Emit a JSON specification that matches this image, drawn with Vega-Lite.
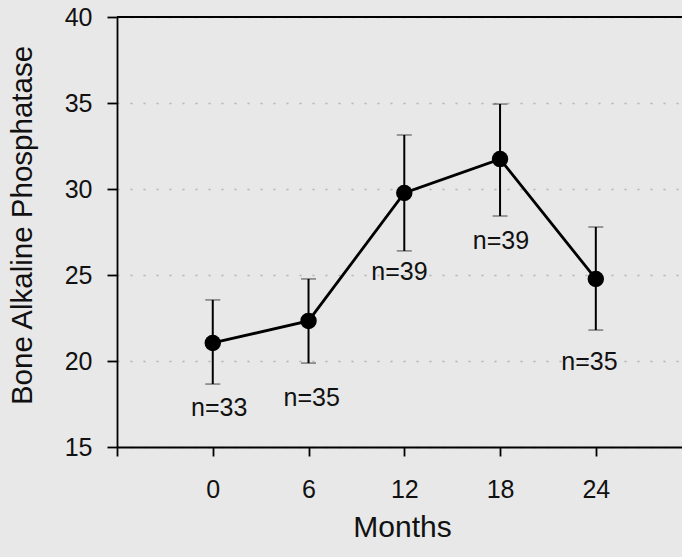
{
  "$schema": "https://vega.github.io/schema/vega-lite/v6.json",
  "width": 565,
  "height": 430,
  "autosize": {"type": "none"},
  "padding": {"left": 117, "top": 17, "right": 0, "bottom": 110},
  "background": "#e8e8e8",
  "config": {
    "view": {"stroke": null},
    "font": "Liberation Sans"
  },
  "datasets": {
    "points": [
      {"month": 0, "mean": 21.05, "lo": 18.66, "hi": 23.55},
      {"month": 6, "mean": 22.33, "lo": 19.88, "hi": 24.77},
      {"month": 12, "mean": 29.77, "lo": 26.4, "hi": 33.14},
      {"month": 18, "mean": 31.74, "lo": 28.43, "hi": 34.94},
      {"month": 24, "mean": 24.77, "lo": 21.8, "hi": 27.79}
    ],
    "labels": [
      {"month": 0.4, "value": 17.27, "text": "n=33"},
      {"month": 6.2, "value": 17.85, "text": "n=35"},
      {"month": 11.7, "value": 25.17, "text": "n=39"},
      {"month": 18.06, "value": 26.98, "text": "n=39"},
      {"month": 23.6, "value": 19.94, "text": "n=35"}
    ]
  },
  "layer": [
    {
      "data": {"name": "points"},
      "mark": {"type": "rule", "color": "black", "strokeWidth": 1.8},
      "encoding": {
        "y": {"datum": 40, "type": "quantitative",
          "scale": {"domain": [15, 40], "nice": false, "zero": false},
          "axis": {
            "values": [15, 20, 25, 30, 35, 40],
            "grid": true,
            "gridDash": [2, 11],
            "gridColor": "#888",
            "gridOpacity": 0.55,
            "gridWidth": 1.5,
            "domainColor": "black",
            "domainWidth": 1.8,
            "tickColor": "black",
            "tickWidth": 1.8,
            "tickSize": 10,
            "labelFontSize": 25,
            "labelColor": "#111",
            "labelPadding": 15,
            "title": "Bone Alkaline Phosphatase",
            "titleFontSize": 29.5,
            "titleFontWeight": "normal",
            "titleColor": "#111",
            "titleAngle": -90,
            "titleX": -95,
            "titleY": 208,
            "titleBaseline": "middle",
            "titleAlign": "center"
          }
        }
      }
    },
    {
      "data": {"name": "points"},
      "mark": {"type": "errorbar", "ticks": {"size": 15, "color": "black", "strokeWidth": 2}, "rule": {"color": "black", "strokeWidth": 2}},
      "encoding": {
        "x": {"field": "month", "type": "quantitative",
          "scale": {"domain": [-6, 29.4], "nice": false, "zero": false},
          "axis": {
            "values": [-6, 0, 6, 12, 18, 24],
            "labelExpr": "datum.value < 0 ? '' : datum.label",
            "grid": false,
            "domainColor": "black",
            "domainWidth": 1.8,
            "tickColor": "black",
            "tickWidth": 1.8,
            "tickSize": 9,
            "labelFontSize": 25,
            "labelColor": "#111",
            "labelPadding": 21,
            "title": "Months",
            "titleFontSize": 30,
            "titleFontWeight": "normal",
            "titleColor": "#111",
            "titleY": 80,
            "titleX": 285,
            "titleBaseline": "middle",
            "titleAlign": "center"
          }
        },
        "y": {"field": "lo", "type": "quantitative", "title": "Bone Alkaline Phosphatase"},
        "y2": {"field": "hi"}
      }
    },
    {
      "data": {"name": "points"},
      "mark": {"type": "line", "color": "black", "strokeWidth": 2.8},
      "encoding": {
        "x": {"field": "month", "type": "quantitative"},
        "y": {"field": "mean", "type": "quantitative"}
      }
    },
    {
      "data": {"name": "points"},
      "mark": {"type": "point", "filled": true, "shape": "circle", "color": "black", "opacity": 1, "size": 270},
      "encoding": {
        "x": {"field": "month", "type": "quantitative"},
        "y": {"field": "mean", "type": "quantitative"}
      }
    },
    {
      "data": {"name": "labels"},
      "mark": {"type": "text", "fontSize": 25, "color": "#111", "align": "center", "baseline": "middle"},
      "encoding": {
        "x": {"field": "month", "type": "quantitative"},
        "y": {"field": "value", "type": "quantitative"},
        "text": {"field": "text"}
      }
    }
  ]
}
